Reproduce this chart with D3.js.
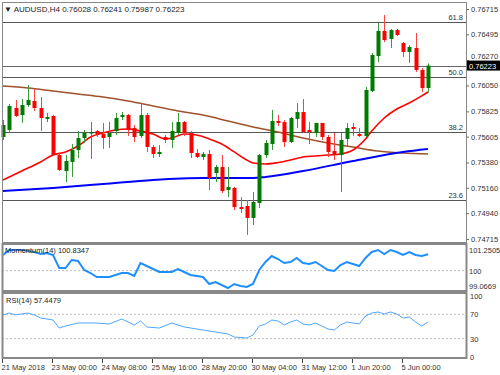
<!DOCTYPE html>
<html>
<head>
<meta charset="utf-8">
<script src="https://cdn.jsdelivr.net/npm/d3@7"></script>
<style>
  body { margin: 0; background: #fff; }
  svg text { font-family: "Liberation Sans", Arial, sans-serif; }
</style>
</head>
<body>
<script>
// bars, H4 candles, index 0 .. 68
const opens  = [0.75602,0.75663,0.75854,0.75793,0.75880,0.75915,0.75854,0.75759,0.75785,0.75445,
                0.75306,0.75385,0.75489,0.75593,0.75637,0.75654,0.75628,0.75602,0.75654,0.75776,
                0.75793,0.75680,0.75611,0.75793,0.75515,0.75454,0.75602,0.75576,0.75637,0.75732,
                0.75637,0.75463,0.75428,0.75454,0.75289,0.75341,0.75141,0.75159,0.74993,0.75002,
                0.74898,0.75028,0.75445,0.75541,0.75741,0.75732,0.75558,0.75759,0.75819,0.75663,
                0.75637,0.75724,0.75602,0.75480,0.75445,0.75585,0.75689,0.75628,0.75611,0.76002,
                0.76306,0.76524,0.76454,0.76532,0.76419,0.76341,0.76376,0.76185,0.76028];
const highs  = [0.75750,0.75889,0.75924,0.75932,0.76054,0.76019,0.75950,0.75811,0.75793,0.75463,
                0.75445,0.75541,0.75654,0.75663,0.75732,0.75663,0.75724,0.75732,0.75811,0.75819,
                0.75802,0.75706,0.75898,0.75811,0.75532,0.75532,0.75619,0.75732,0.75811,0.75741,
                0.75654,0.75498,0.75472,0.75489,0.75359,0.75445,0.75341,0.75167,0.75080,0.75054,
                0.75124,0.75454,0.75576,0.75837,0.75793,0.75750,0.75776,0.75898,0.75932,0.75732,
                0.75724,0.75724,0.75619,0.75637,0.75637,0.75724,0.75724,0.75680,0.76037,0.76332,
                0.76593,0.76663,0.76541,0.76541,0.76428,0.76402,0.76506,0.76202,0.76241];
const lows   = [0.75576,0.75637,0.75776,0.75724,0.75863,0.75828,0.75654,0.75732,0.75437,0.75306,
                0.75211,0.75254,0.75419,0.75550,0.75411,0.75602,0.75498,0.75506,0.75619,0.75750,
                0.75611,0.75558,0.75593,0.75472,0.75419,0.75428,0.75550,0.75506,0.75619,0.75611,
                0.75419,0.75419,0.75402,0.75141,0.75211,0.75115,0.75080,0.74967,0.74941,0.74750,
                0.74837,0.74985,0.75419,0.75489,0.75698,0.75515,0.75550,0.75680,0.75637,0.75541,
                0.75602,0.75576,0.75428,0.75402,0.75124,0.75515,0.75611,0.75602,0.75602,0.75993,
                0.76254,0.76428,0.76376,0.76480,0.76298,0.76245,0.76167,0.75993,0.75987];
const closes = [0.75706,0.75872,0.75785,0.75880,0.75924,0.75854,0.75767,0.75776,0.75445,0.75315,
                0.75393,0.75489,0.75593,0.75637,0.75645,0.75628,0.75593,0.75637,0.75767,0.75793,
                0.75663,0.75602,0.75793,0.75515,0.75454,0.75472,0.75576,0.75654,0.75732,0.75637,
                0.75463,0.75428,0.75454,0.75245,0.75341,0.75132,0.75167,0.74993,0.74976,0.74898,
                0.75037,0.75445,0.75550,0.75741,0.75724,0.75558,0.75767,0.75819,0.75645,0.75645,
                0.75724,0.75602,0.75472,0.75445,0.75576,0.75680,0.75672,0.75611,0.76011,0.76315,
                0.76524,0.76445,0.76532,0.76489,0.76341,0.76385,0.76185,0.76028,0.76223];

// moving averages (bar index, price)
const maFastBars = [0,3,6,8,10,12,14,16,18,20,22,24,26,27,29,31,33,35,37,39,40,42,44,46,48,50,52,54,56,58,59,61,63,65,67,68];
const maFast     = [0.75228,0.75306,0.75385,0.75445,0.75472,0.75524,0.75602,0.75637,0.75663,0.75672,0.75654,0.75628,
                    0.75585,0.75593,0.75628,0.75619,0.75585,0.75541,0.75472,0.75402,0.75376,0.75367,0.75380,0.75402,
                    0.75428,0.75437,0.75445,0.75454,0.75489,0.75585,0.75654,0.75767,0.75845,0.75898,0.75959,0.75993];
const maMidBars  = [0,4,8,12,16,20,24,28,32,36,40,44,48,52,56,60,64,68];
const maMid      = [0.76045,0.76028,0.76002,0.75976,0.75950,0.75915,0.75872,0.75828,0.75793,0.75741,0.75689,0.75645,
                    0.75593,0.75550,0.75515,0.75480,0.75463,0.75454];
const maSlowBars = [0,8,16,24,32,40,42,48,56,64,68];
const maSlow     = [0.75132,0.75159,0.75193,0.75228,0.75245,0.75245,0.75254,0.75306,0.75393,0.75472,0.75498];

// fibonacci levels
const fibNames  = ["61.8","50.0","38.2","23.6"];
const fibPrices = [0.76602,0.76124,0.75646,0.75054];

const priceTicks = [0.76715,0.76495,0.76270,0.76050,0.75825,0.75605,0.75380,0.75160,0.74940,0.74715];

// momentum(14)
const momBars = [0,1,3,5,6,7,8,9,10,11,12,13,14,15,17,19,20,21,22,23,25,27,28,29,30,32,33,34,36,37,38,39,
                 40,41,42,43,44,45,46,47,48,49,50,51,52,53,54,55,56,57,58,59,60,61,62,63,64,65,66,67,68];
const momVals = [100.793,101.047,101.047,100.946,100.844,100.895,100.793,100.133,100.133,100.540,100.489,100.032,
                 99.879,99.676,99.676,99.879,99.879,99.727,100.387,100.235,99.930,99.930,100.083,99.930,99.778,
                 99.676,99.321,99.422,99.118,99.321,99.219,99.168,
                 99.321,100.032,100.438,100.743,100.590,100.387,100.438,100.641,100.387,100.336,100.438,100.235,
                 100.032,99.981,100.286,100.438,100.336,100.235,100.641,100.946,101.047,100.844,101.047,100.946,
                 100.793,100.946,100.793,100.743,100.8347];
const momTicks = [101.2505, 100, 99.0669];

// rsi(14)
const rsiBars = [0,1,2,4,5,6,8,9,10,12,15,17,19,21,22,23,25,27,29,32,34,36,37,39,
                 40,41,42,43,44,45,46,47,48,49,50,51,52,53,54,55,56,57,58,59,60,61,62,63,64,65,66,67,68];
const rsiVals = [68.9,72.1,68.9,72.1,68.9,63.9,60.7,47.5,50.8,55.7,55.7,54.1,62.3,52.5,59.0,49.2,47.5,55.7,
                 49.2,44.3,41.0,37.7,32.8,31.1,
                 36.1,50.8,54.1,60.7,59.0,52.5,57.4,60.7,54.1,52.5,55.7,50.8,45.9,44.3,52.5,57.4,55.7,54.1,
                 67.2,72.1,73.8,70.5,73.8,70.5,63.9,65.6,57.4,50.8,57.4479];
const rsiTicks = [100, 70, 30, 0];

const timeBars   = [0,8,16,24,32,40,48,56,64];
const timeLabels = ["21 May 2018","23 May 00:00","24 May 08:00","25 May 16:00","28 May 20:00",
                    "30 May 04:00","31 May 12:00","1 Jun 20:00","5 Jun 00:00"];

const W = 500, H = 375;
const L = 2, R = 466;
const FS = "7.5px";
const svg = d3.select("body").append("svg").attr("width", W).attr("height", H);

const x = d3.scaleLinear().domain([0, 68]).range([3, 428]);
const y = d3.scaleLinear().domain([0.74715, 0.76715]).range([239, 9]);
const yMom = d3.scaleLinear().domain([99.0669, 101.2505]).range([289, 246]);
const yRsi = d3.scaleLinear().domain([0, 100]).range([357, 296]);

// fib lines + current price line
fibPrices.forEach((p, i) => {
  svg.append("line").attr("x1", L).attr("x2", R).attr("y1", Math.round(y(p)) + 0.5).attr("y2", Math.round(y(p)) + 0.5)
    .attr("stroke", "#555").attr("stroke-width", 1);
  svg.append("text").attr("x", R - 3).attr("y", Math.round(y(p)) - 2).attr("text-anchor", "end")
    .attr("font-size", FS).attr("fill", "#333").text(fibNames[i]);
});
const last = closes[closes.length - 1];
svg.append("line").attr("x1", L).attr("x2", R).attr("y1", Math.round(y(last)) + 0.5).attr("y2", Math.round(y(last)) + 0.5)
  .attr("stroke", "#666").attr("stroke-width", 1);

// moving averages
const line = d3.line().curve(d3.curveMonotoneX);
function maPath(bars, vals, color, w) {
  svg.append("path").attr("d", line(bars.map((b, i) => [x(b), y(vals[i])])))
    .attr("fill", "none").attr("stroke", color).attr("stroke-width", w);
}
maPath(maMidBars, maMid, "#a0522d", 1.5);
maPath(maSlowBars, maSlow, "#0000ff", 2);
maPath(maFastBars, maFast, "#ff0000", 1.6);

// candles
const idx = d3.range(opens.length);
const candle = svg.append("g").selectAll("g").data(idx).enter().append("g");
candle.append("line")
  .attr("x1", i => Math.round(x(i)) + 0.5).attr("x2", i => Math.round(x(i)) + 0.5)
  .attr("y1", i => y(highs[i])).attr("y2", i => y(lows[i]))
  .attr("stroke", i => closes[i] >= opens[i] ? "#3a9a3a" : "#ff4040").attr("stroke-width", 1);
candle.append("rect")
  .attr("x", i => Math.round(x(i)) - 1.5).attr("width", 4)
  .attr("y", i => y(Math.max(opens[i], closes[i])))
  .attr("height", i => Math.max(1.5, Math.abs(y(opens[i]) - y(closes[i]))))
  .attr("fill", i => closes[i] >= opens[i] ? "#007a00" : "#ff0000");

// price axis
const yAxis = d3.axisRight(y).tickValues(priceTicks).tickSize(3).tickPadding(2).tickFormat(d3.format(".5f"));
const ga = svg.append("g").attr("transform", `translate(${R},0)`).call(yAxis);
ga.select(".domain").remove();
ga.selectAll("text").attr("font-size", FS).attr("fill", "#333").style("font-family", "Liberation Sans, Arial");
ga.selectAll("line").attr("stroke", "#666");
ga.selectAll(".tick").filter(d => d === 0.76270).select("text").attr("dy", "-0.2em");

// current price box
svg.append("rect").attr("x", R).attr("y", y(last) - 5).attr("width", 34).attr("height", 10).attr("fill", "#000");
svg.append("text").attr("x", R + 3).attr("y", y(last) + 3).attr("font-size", FS).attr("fill", "#fff").text(last.toFixed(5));

// momentum panel
svg.append("line").attr("x1", L).attr("x2", R).attr("y1", yMom(100)).attr("y2", yMom(100))
  .attr("stroke", "#bbb").attr("stroke-dasharray", "2,2");
svg.append("path").attr("d", d3.line()(momBars.map((b, i) => [x(b), yMom(momVals[i])])))
  .attr("fill", "none").attr("stroke", "#1e8fff").attr("stroke-width", 2);
const momAxis = d3.axisRight(yMom).tickValues(momTicks).tickSize(0).tickPadding(3)
  .tickFormat(d => d === 100 ? "100" : d3.format(".4f")(d));
const gm = svg.append("g").attr("transform", `translate(${R},0)`).call(momAxis);
gm.select(".domain").remove();
gm.selectAll("text").attr("font-size", FS).attr("fill", "#333").style("font-family", "Liberation Sans, Arial");
gm.selectAll(".tick").filter(d => d === 101.2505).select("text").attr("dy", "0.9em");
gm.selectAll(".tick").filter(d => d === 99.0669).select("text").attr("dy", "-0.1em");
svg.append("text").attr("x", 5).attr("y", 253).attr("font-size", FS).attr("fill", "#222")
  .text("Momentum(14) " + momVals[momVals.length - 1].toFixed(4));

// rsi panel
[70, 30].forEach(v => {
  svg.append("line").attr("x1", L).attr("x2", R).attr("y1", yRsi(v)).attr("y2", yRsi(v))
    .attr("stroke", "#bbb").attr("stroke-dasharray", "2,2");
});
svg.append("path").attr("d", d3.line()(rsiBars.map((b, i) => [x(b), yRsi(rsiVals[i])])))
  .attr("fill", "none").attr("stroke", "#4fa6ff").attr("stroke-width", 1);
const rsiAxis = d3.axisRight(yRsi).tickValues(rsiTicks).tickSize(0).tickPadding(4);
const gr = svg.append("g").attr("transform", `translate(${R},0)`).call(rsiAxis);
gr.select(".domain").remove();
gr.selectAll("text").attr("font-size", FS).attr("fill", "#333").style("font-family", "Liberation Sans, Arial");
svg.append("text").attr("x", 6).attr("y", 303).attr("font-size", FS).attr("fill", "#222")
  .text("RSI(14) " + rsiVals[rsiVals.length - 1].toFixed(4));

// frames
const frame = svg.append("g").attr("fill", "none").attr("stroke", "#888");
frame.append("rect").attr("x", L + 0.5).attr("y", 2.5).attr("width", R - L).attr("height", 240).attr("stroke-width", 1);
frame.append("rect").attr("x", L + 0.5).attr("y", 244).attr("width", R - L).attr("height", 47).attr("stroke-width", 2);
frame.append("rect").attr("x", L + 0.5).attr("y", 293).attr("width", R - L).attr("height", 65).attr("stroke-width", 2);

// time axis
const xAxis = d3.axisBottom(x).tickValues(timeBars).tickSize(4).tickPadding(2)
  .tickFormat((d, i) => timeLabels[i]);
const gx = svg.append("g").attr("transform", "translate(-1,359)").call(xAxis);
gx.select(".domain").remove();
gx.selectAll("line").attr("stroke", "#444");
gx.selectAll("text").attr("font-size", FS).attr("fill", "#333").attr("text-anchor", "start").attr("dx", "-1")
  .style("font-family", "Liberation Sans, Arial");

// title
svg.append("rect").attr("x", 3).attr("y", 3).attr("width", 170).attr("height", 12).attr("fill", "#fff");
svg.append("text").attr("x", 4).attr("y", 12).attr("font-size", "8px").attr("fill", "#222")
  .text("\u25BC AUDUSD,H4  " + [opens, highs, lows, closes].map(a => a[a.length - 1].toFixed(5)).join(" "));
</script>
</body>
</html>
